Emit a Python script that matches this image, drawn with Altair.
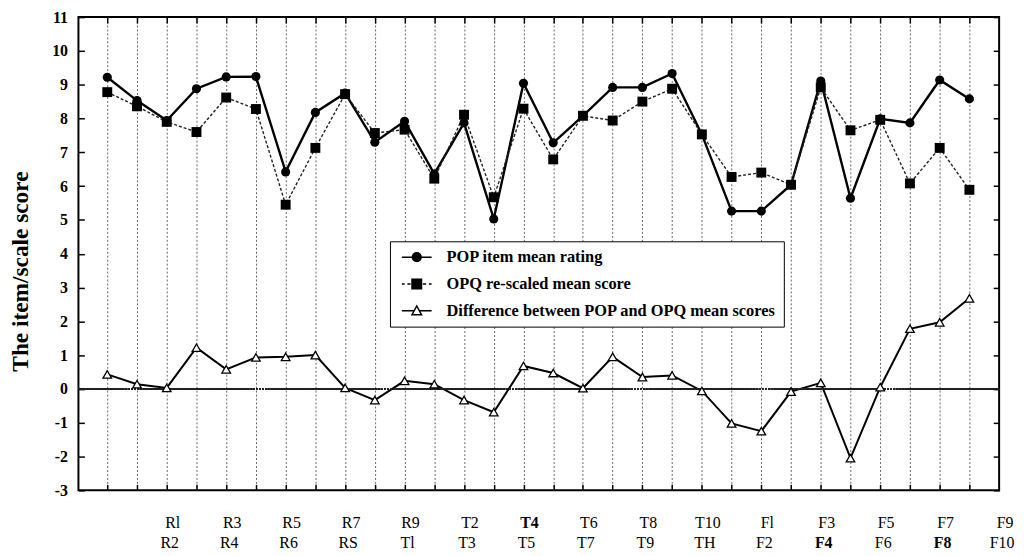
import altair as alt
import pandas as pd

# ---- data ----
item_labels = ["Rl", "R2", "R3", "R4", "R5", "R6", "R7", "RS", "R9",
               "Tl", "T2", "T3", "T4", "T5", "T6", "T7", "T8", "T9", "T10", "TH",
               "Fl", "F2", "F3", "F4", "F5", "F6", "F7", "F8", "F9", "F10"]
bold_labels = ["T4", "F4", "F8"]

pop = [9.22, 8.53, 7.94, 8.88, 9.23, 9.24, 6.42, 8.18, 8.75, 7.30,
       7.92, 6.36, 7.87, 5.03, 9.04, 7.28, 8.08, 8.92, 8.92, 9.33,
       7.53, 5.26, 5.26, 6.04, 9.11, 5.64, 7.99, 7.87, 9.14, 8.58]
opq = [8.78, 8.36, 7.90, 7.60, 8.62, 8.28, 5.45, 7.13, 8.72, 7.57,
       7.67, 6.22, 8.11, 5.67, 8.29, 6.79, 8.08, 7.94, 8.50, 8.88,
       7.53, 6.27, 6.40, 6.04, 8.92, 7.65, 7.96, 6.08, 7.13, 5.89]
diff = [0.43, 0.14, 0.03, 1.22, 0.58, 0.93, 0.95, 1.00, 0.03, -0.33,
        0.24, 0.14, -0.33, -0.69, 0.68, 0.47, 0.02, 0.95, 0.35, 0.40,
        -0.06, -1.02, -1.25, -0.08, 0.18, -2.05, 0.05, 1.78, 1.97, 2.68]

series = ["POP item mean rating", "OPQ re-scaled mean score",
          "Difference between POP and OPQ mean scores"]
y_ticks = list(range(-3, 12))

idx = list(range(len(pop)))
df = pd.DataFrame({"idx": idx, "pop": pop, "opq": opq, "diff": diff})

lab = pd.DataFrame({"label": item_labels, "idx": idx})
lab["row"] = ["top" if i % 2 == 0 else "bottom" for i in idx]
lab["pos"] = lab["idx"] + lab["row"].map({"top": 2.2, "bottom": 1.1})
lab["bold"] = lab["label"].isin(bold_labels)

leg_df = pd.DataFrame({"series": series, "idx": [0, 0, 0], "v": [0, 0, 0]})

FONT = "Liberation Serif"
xs = alt.Scale(domain=[-0.97, 30.0], nice=False, zero=False)
ys = alt.Scale(domain=[-3, 11], nice=False, zero=False)

grid_axis = alt.Axis(orient="bottom", values=idx, grid=True, gridDash=[2, 2],
                     gridColor="#666666", gridWidth=1, ticks=False, labels=False,
                     domain=False, title=None)
bottom_ticks = alt.Axis(orient="bottom", values=idx, grid=False, ticks=True, tickSize=6,
                        tickWidth=1.5, tickColor="black", labels=False, domain=False,
                        title=None, offset=-6)
top_ticks = alt.Axis(orient="top", values=idx, grid=False, ticks=True, tickSize=6,
                     tickWidth=1.5, tickColor="black", labels=False, domain=False,
                     title=None, offset=-6)
left_axis = alt.Axis(orient="left", values=y_ticks, grid=False, ticks=True, tickSize=6,
                     tickWidth=1.5, tickColor="black", domain=False, offset=-6,
                     labelExpr="datum.value < 0 ? '-' + abs(datum.value) : '' + datum.value",
                     labelFont=FONT, labelFontWeight="bold", labelFontSize=16,
                     labelColor="black", labelPadding=11,
                     title="The item/scale score", titleFont=FONT, titleFontSize=23.5,
                     titleFontWeight="bold", titleColor="black", titleX=-64, titleY=256,
                     titleAlign="center", titleBaseline="middle", titleAngle=270)
right_axis = alt.Axis(orient="right", values=y_ticks, grid=False, ticks=True, tickSize=6,
                      tickWidth=1.5, tickColor="black", labels=False, domain=False,
                      title=None, offset=-6)

base = alt.Chart(df)

pop_line = base.mark_line(color="black", strokeWidth=2.4).encode(
    x=alt.X("idx:Q", scale=xs, axis=grid_axis),
    y=alt.Y("pop:Q", scale=ys, axis=left_axis))
opq_line = base.mark_line(color="#222222", strokeWidth=1.4, strokeDash=[3, 2]).encode(
    x=alt.X("idx:Q", scale=xs, axis=top_ticks),
    y=alt.Y("opq:Q", scale=ys, axis=None))
diff_line = base.mark_line(color="black", strokeWidth=2).encode(
    x=alt.X("idx:Q", scale=xs, axis=None),
    y=alt.Y("diff:Q", scale=ys, axis=None))
zero = base.mark_rule(color="#222222", strokeDash=[2, 1], strokeWidth=1.5).encode(
    y=alt.YDatum(0, scale=ys, axis=None))
pop_pts = base.mark_point(shape="circle", filled=True, color="black", size=85, opacity=1).encode(
    x=alt.X("idx:Q", scale=xs, axis=bottom_ticks),
    y=alt.Y("pop:Q", scale=ys, axis=right_axis))
opq_pts = base.mark_point(shape="square", filled=True, color="black", size=100, opacity=1).encode(
    x=alt.X("idx:Q", scale=xs, axis=None),
    y=alt.Y("opq:Q", scale=ys, axis=None))
diff_pts = base.mark_point(shape="triangle-up", filled=True, fill="white", stroke="black",
                           strokeWidth=1.3, size=75, opacity=1).encode(
    x=alt.X("idx:Q", scale=xs, axis=None),
    y=alt.Y("diff:Q", scale=ys, axis=None))

# legend symbols: line + marker paths
paths = [
    "M-0.5,0H3.25M0.825,0A0.55,0.55 0 1,0 1.925,0A0.55,0.55 0 1,0 0.825,0Z",
    "M-0.5,0H-0.15M0.2,0H0.6M2.15,0H2.55M2.9,0H3.25M0.775,-0.6H1.975V0.6H0.775Z",
    "M-0.5,0H1.05M1.7,0H3.25M1.375,-0.6L1.975,0.5L0.775,0.5Z",
]
leg_def = alt.Legend(orient="none", legendX=314, legendY=226, title=None,
                     symbolSize=256, symbolStrokeWidth=1.5, labelFont=FONT,
                     labelFontWeight="bold", labelFontSize=16.5, labelColor="black",
                     labelOffset=32, labelLimit=0, rowPadding=9, padding=7,
                     strokeColor="black", fillColor="white", cornerRadius=0)
legend_layer = alt.Chart(leg_df).transform_filter("false").mark_point(
    size=256, opacity=1, strokeWidth=1.5, filled=False).encode(
    x=alt.X("idx:Q", scale=xs, axis=None),
    y=alt.Y("v:Q", scale=ys, axis=None),
    shape=alt.Shape("series:N", scale=alt.Scale(domain=series, range=paths), legend=leg_def),
    fill=alt.Fill("series:N", scale=alt.Scale(domain=series, range=["black", "black", "white"]),
                  legend=leg_def),
    stroke=alt.Stroke("series:N", scale=alt.Scale(domain=series, range=["black", "black", "black"]),
                      legend=leg_def),
)

text_layers = []
for row, yv in [("top", 510), ("bottom", 530)]:
    for bold in [False, True]:
        cond = f"datum.row == '{row}' && datum.bold == {'true' if bold else 'false'}"
        text_layers.append(
            alt.Chart(lab).transform_filter(cond).mark_text(
                font=FONT, fontSize=16, fontWeight="bold" if bold else "normal",
                color="black", baseline="middle", align="center").encode(
                x=alt.X("pos:Q", scale=xs, axis=None),
                y=alt.value(yv),
                text="label:N"))

chart = alt.layer(
    pop_line, opq_line, diff_line, zero, opq_pts, pop_pts, diff_pts, legend_layer, *text_layers
).resolve_axis(x="independent", y="independent").properties(
    width=928, height=477,
    autosize=alt.AutoSizeParams(type="none"),
    padding={"left": 71, "top": 7, "right": 17, "bottom": 60},
).configure_view(stroke="black", strokeWidth=2)

chart.save("out.html", embed_options={"renderer": "svg", "actions": False})
